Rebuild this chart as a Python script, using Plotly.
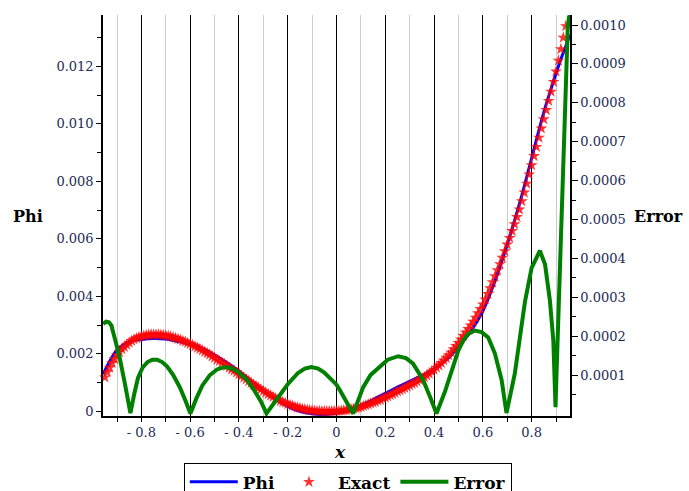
import plotly.graph_objects as go

# Exact solution samples (star markers), x = -0.95 ... 0.95
exact_x = [
    -0.95, -0.94, -0.93, -0.92, -0.91, -0.90, -0.89, -0.88, -0.87, -0.86,
    -0.85, -0.84, -0.83, -0.82, -0.81, -0.80, -0.79, -0.78, -0.77, -0.76,
    -0.75, -0.74, -0.73, -0.72, -0.71, -0.70, -0.69, -0.68, -0.67, -0.66,
    -0.65, -0.64, -0.63, -0.62, -0.61, -0.60, -0.59, -0.58, -0.57, -0.56,
    -0.55, -0.54, -0.53, -0.52, -0.51, -0.50, -0.49, -0.48, -0.47, -0.46,
    -0.45, -0.44, -0.43, -0.42, -0.41, -0.40, -0.39, -0.38, -0.37, -0.36,
    -0.35, -0.34, -0.33, -0.32, -0.31, -0.30, -0.29, -0.28, -0.27, -0.26,
    -0.25, -0.24, -0.23, -0.22, -0.21, -0.20, -0.19, -0.18, -0.17, -0.16,
    -0.15, -0.14, -0.13, -0.12, -0.11, -0.10, -0.09, -0.08, -0.07, -0.06,
    -0.05, -0.04, -0.03, -0.02, -0.01, 0.00, 0.01, 0.02, 0.03, 0.04,
    0.05, 0.06, 0.07, 0.08, 0.09, 0.10, 0.11, 0.12, 0.13, 0.14,
    0.15, 0.16, 0.17, 0.18, 0.19, 0.20, 0.21, 0.22, 0.23, 0.24,
    0.25, 0.26, 0.27, 0.28, 0.29, 0.30, 0.31, 0.32, 0.33, 0.34,
    0.35, 0.36, 0.37, 0.38, 0.39, 0.40, 0.41, 0.42, 0.43, 0.44,
    0.45, 0.46, 0.47, 0.48, 0.49, 0.50, 0.51, 0.52, 0.53, 0.54,
    0.55, 0.56, 0.57, 0.58, 0.59, 0.60, 0.61, 0.62, 0.63, 0.64,
    0.65, 0.66, 0.67, 0.68, 0.69, 0.70, 0.71, 0.72, 0.73, 0.74,
    0.75, 0.76, 0.77, 0.78, 0.79, 0.80, 0.81, 0.82, 0.83, 0.84,
    0.85, 0.86, 0.87, 0.88, 0.89, 0.90, 0.91, 0.92, 0.93, 0.94,
    0.95,
]
exact_v = [
    0.00118, 0.00136, 0.00152, 0.00168, 0.00182, 0.00195, 0.00206, 0.00216, 0.00224, 0.00232,
    0.00239, 0.00245, 0.00250, 0.00254, 0.00258, 0.00261, 0.00263, 0.00265, 0.00266, 0.00267,
    0.00267, 0.00267, 0.00267, 0.00266, 0.00265, 0.00264, 0.00262, 0.00260, 0.00257, 0.00255,
    0.00252, 0.00249, 0.00245, 0.00242, 0.00238, 0.00234, 0.00230, 0.00226, 0.00221, 0.00217,
    0.00212, 0.00207, 0.00202, 0.00197, 0.00191, 0.00186, 0.00180, 0.00175, 0.00169, 0.00164,
    0.00158, 0.00152, 0.00146, 0.00141, 0.00135, 0.00129, 0.00123, 0.00117, 0.00111, 0.00105,
    0.00099, 0.00093, 0.00087, 0.00081, 0.00076, 0.00070, 0.00065, 0.00060, 0.00055, 0.00050,
    0.00045, 0.00041, 0.00036, 0.00032, 0.00029, 0.00025, 0.00022, 0.00019, 0.00016, 0.00013,
    0.00011, 0.00009, 0.00007, 0.00005, 0.00004, 0.00003, 0.00002, 0.00001, 0.00001, 0.00000,
    0.00000, 0.00000, 0.00000, 0.00000, 0.00001, 0.00001, 0.00001, 0.00002, 0.00003, 0.00004,
    0.00006, 0.00007, 0.00009, 0.00011, 0.00013, 0.00015, 0.00018, 0.00021, 0.00024, 0.00027,
    0.00030, 0.00033, 0.00037, 0.00040, 0.00044, 0.00048, 0.00052, 0.00056, 0.00060, 0.00064,
    0.00069, 0.00073, 0.00077, 0.00081, 0.00086, 0.00090, 0.00095, 0.00099, 0.00104, 0.00109,
    0.00114, 0.00119, 0.00125, 0.00131, 0.00138, 0.00145, 0.00152, 0.00160, 0.00168, 0.00177,
    0.00186, 0.00195, 0.00205, 0.00216, 0.00227, 0.00238, 0.00250, 0.00262, 0.00274, 0.00286,
    0.00299, 0.00312, 0.00326, 0.00341, 0.00356, 0.00372, 0.00389, 0.00408, 0.00428, 0.00449,
    0.00470, 0.00491, 0.00512, 0.00534, 0.00557, 0.00580, 0.00603, 0.00627, 0.00651, 0.00676,
    0.00702, 0.00731, 0.00761, 0.00792, 0.00824, 0.00856, 0.00888, 0.00920, 0.00952, 0.00984,
    0.01016, 0.01048, 0.01080, 0.01112, 0.01146, 0.01182, 0.01220, 0.01260, 0.01300, 0.01340,
    0.01380,
]

# Approximate solution Phi
phi_x = [
    -0.957, -0.95, -0.90, -0.85, -0.80, -0.75, -0.70, -0.65, -0.60, -0.55,
    -0.50, -0.45, -0.40, -0.35, -0.30, -0.25, -0.20, -0.15, -0.10, -0.05,
    0.00, 0.05, 0.10, 0.15, 0.20, 0.25, 0.30, 0.35, 0.40, 0.45,
    0.50, 0.55, 0.60, 0.65, 0.70, 0.75, 0.80, 0.85, 0.90, 0.92,
    0.94, 0.957,
]
phi_v = [
    0.00129, 0.00141, 0.00213, 0.00242, 0.00250, 0.00253, 0.00251, 0.00243, 0.00234, 0.00219,
    0.00196, 0.00170, 0.00140, 0.00106, 0.00072, 0.00042, 0.00017, 0.00000, -0.00009, -0.00011,
    -0.00007, 0.00004, 0.00021, 0.00041, 0.00062, 0.00084, 0.00104, 0.00124, 0.00147, 0.00179,
    0.00224, 0.00278, 0.00349, 0.00454, 0.00581, 0.00721, 0.00880, 0.01040, 0.01175, 0.01225,
    0.01270, 0.01310,
]

# Absolute error |Phi - Exact| (right axis)
err_x = [
    -0.957, -0.945, -0.933, -0.923, -0.905, -0.889, -0.868, -0.845,
    -0.83, -0.814, -0.795, -0.775, -0.755, -0.735, -0.715, -0.695, -0.67, -0.643, -0.62, -0.599,
    -0.575, -0.55, -0.52, -0.49, -0.46, -0.43, -0.40, -0.37, -0.34, -0.31, -0.287,
    -0.265, -0.24, -0.20, -0.158, -0.13, -0.103, -0.075, -0.05, -0.027, 0.0, 0.0135, 0.04, 0.068,
    0.09, 0.109, 0.14, 0.178, 0.21, 0.253, 0.285, 0.314, 0.355, 0.385, 0.41,
    0.444, 0.47, 0.499, 0.52, 0.54, 0.567, 0.595, 0.622, 0.649, 0.677, 0.697,
    0.731, 0.773, 0.80, 0.834, 0.855, 0.875, 0.889, 0.898,
    0.903, 0.908, 0.915, 0.922, 0.928, 0.934, 0.941, 0.948, 0.953, 0.957,
]
err_v = [
    0.000232, 0.000238, 0.000236, 0.000228, 0.000185, 0.000145, 0.000080, 0.000003,
    0.000050, 0.000093, 0.000120, 0.000134, 0.000140, 0.000140, 0.000134, 0.000123, 0.000101, 0.000070, 0.000036, 0.000002,
    0.000040, 0.000074, 0.000100, 0.000115, 0.000121, 0.000118, 0.000107, 0.000090, 0.000064, 0.000033, 0.000002,
    0.000020, 0.000042, 0.000077, 0.000106, 0.000117, 0.000121, 0.000117, 0.000107, 0.000092, 0.000076, 0.000062, 0.000032, 0.000002,
    0.000037, 0.000069, 0.000101, 0.000124, 0.000140, 0.000149, 0.000144, 0.000130, 0.000088, 0.000042, 0.000002,
    0.000057, 0.000110, 0.000163, 0.000190, 0.000206, 0.000215, 0.000211, 0.000197, 0.000157, 0.000088, 0.000003,
    0.000104, 0.000290, 0.000376, 0.000420, 0.000385, 0.000292, 0.000190, 0.000018,
    0.000120, 0.000220, 0.000350, 0.000500, 0.000620, 0.000750, 0.000900, 0.000990, 0.001020, 0.001025,
]

x_ticks = [-0.8, -0.6, -0.4, -0.2, 0.0, 0.2, 0.4, 0.6, 0.8]
x_labels = ["- 0.8", "- 0.6", "- 0.4", "- 0.2", "0", "0.2", "0.4", "0.6", "0.8"]
phi_ticks = [0, 0.002, 0.004, 0.006, 0.008, 0.010, 0.012]
phi_labels = ["0", "0.002", "0.004", "0.006", "0.008", "0.010", "0.012"]
err_ticks = [0.0001, 0.0002, 0.0003, 0.0004, 0.0005, 0.0006, 0.0007, 0.0008, 0.0009, 0.0010]
err_labels = ["0.0001", "0.0002", "0.0003", "0.0004", "0.0005",
              "0.0006", "0.0007", "0.0008", "0.0009", "0.0010"]

SERIF = "DejaVu Serif"
TICK_COLOR = "#1c2a55"

fig = go.Figure()
fig.add_trace(go.Scatter(
    x=phi_x, y=phi_v, name="Phi", mode="lines",
    line=dict(color="#0000ff", width=3, shape="spline"),
))
fig.add_trace(go.Scatter(
    x=exact_x, y=exact_v, name="Exact", mode="markers",
    marker=dict(symbol="star", size=9, color="rgba(255,0,0,0.8)", line=dict(width=0)),
    cliponaxis=False,
))
fig.add_trace(go.Scatter(
    x=err_x, y=err_v, name="Error", mode="lines", yaxis="y2",
    line=dict(color="#008000", width=4),
))

fig.update_layout(
    width=689, height=491,
    margin=dict(l=103, r=119, t=15, b=75, autoexpand=False),
    paper_bgcolor="white", plot_bgcolor="white",
    font=dict(family=SERIF, size=13, color=TICK_COLOR),
    xaxis=dict(
        range=[-0.9574, 0.9574],
        tickmode="array", tickvals=x_ticks, ticktext=x_labels,
        showgrid=True, gridcolor="black", gridwidth=1.3,
        showline=True, linecolor="black", linewidth=1.5,
        ticks="outside", ticklen=4, tickcolor="black",
        zeroline=False,
        minor=dict(dtick=0.1, tick0=0.1, showgrid=True, gridcolor="#cccccc",
                   gridwidth=1, ticks="outside", ticklen=4, tickcolor="black"),
        tickfont=dict(family=SERIF, size=13, color=TICK_COLOR),
    ),
    yaxis=dict(
        range=[-0.000164, 0.013786],
        tickmode="array", tickvals=phi_ticks, ticktext=phi_labels,
        showgrid=False, zeroline=False,
        showline=True, linecolor="black", linewidth=1.5,
        ticks="outside", ticklen=5, tickcolor="black",
        minor=dict(tickvals=[0.001, 0.003, 0.005, 0.007, 0.009, 0.011, 0.013],
                   ticks="outside", ticklen=4, tickcolor="black", showgrid=False),
        tickfont=dict(family=SERIF, size=13, color=TICK_COLOR),
    ),
    yaxis2=dict(
        range=[-0.0000046, 0.0010257],
        overlaying="y", side="right", anchor="x",
        tickmode="array", tickvals=err_ticks, ticktext=err_labels,
        showgrid=False, zeroline=False,
        showline=True, linecolor="black", linewidth=1.5,
        ticks="outside", ticklen=6, tickcolor="black",
        minor=dict(tickvals=[0.00005, 0.00015, 0.00025, 0.00035, 0.00045,
                             0.00055, 0.00065, 0.00075, 0.00085, 0.00095],
                   ticks="outside", ticklen=4, tickcolor="black", showgrid=False),
        tickfont=dict(family=SERIF, size=13, color=TICK_COLOR),
    ),
    legend=dict(
        orientation="h", x=0.173, y=-0.118, xanchor="left", yanchor="top",
        bordercolor="black", borderwidth=1, bgcolor="white",
        font=dict(family=SERIF, size=17, color="black", weight="bold"),
        itemwidth=48,
    ),
    annotations=[
        dict(text="<b>Phi</b>", xref="paper", yref="paper", x=-0.1603, y=0.4984,
             xanchor="center", yanchor="middle", showarrow=False,
             font=dict(family=SERIF, size=16, color="black")),
        dict(text="<b>Error</b>", xref="paper", yref="paper", x=1.1896, y=0.4984,
             xanchor="center", yanchor="middle", showarrow=False,
             font=dict(family=SERIF, size=16, color="black")),
        dict(text="<b><i>x</i></b>", xref="paper", yref="paper", x=0.507, y=-0.0898,
             xanchor="center", yanchor="middle", showarrow=False,
             font=dict(family=SERIF, size=17, color="black")),
    ],
)

fig.write_html("out.html")
